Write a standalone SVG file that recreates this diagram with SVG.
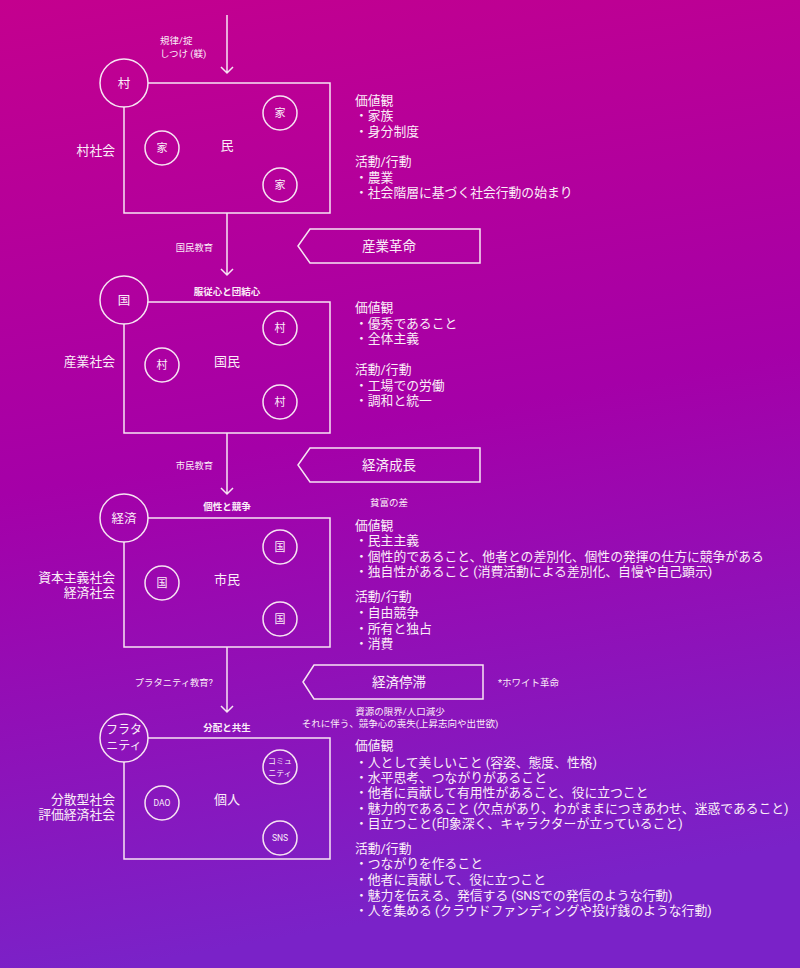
<svg xmlns="http://www.w3.org/2000/svg" width="800" height="968" viewBox="0 0 800 968">
<defs>
<linearGradient id="bg" x1="0" y1="0" x2="0.15" y2="1">
<stop offset="0" stop-color="#c4008e"/>
<stop offset="0.5" stop-color="#a500a8"/>
<stop offset="1" stop-color="#7a22c8"/>
</linearGradient>
<style>
text{font-family:Roboto,"Noto Sans CJK JP",sans-serif;fill:#fbeef8;dominant-baseline:central}
.ln{fill:none;stroke:#f7e4f3;stroke-width:1.5}
.big{font-size:12.5px;text-anchor:middle}
.mid{font-size:13px;text-anchor:middle}
.sm{font-size:11px;text-anchor:middle}
.xs{font-size:8.5px;text-anchor:middle}
.lbl{font-size:12.8px;text-anchor:end}
.desc{font-size:12.8px}
.edu{font-size:9.3px;text-anchor:end}
.bold{font-size:9.5px;font-weight:bold;text-anchor:middle}
.note{font-size:9.5px}
.ban{font-size:13.5px;text-anchor:middle}
</style>
</defs>
<rect width="800" height="968" fill="url(#bg)"/>

<g id="connectors">
<path class="ln" d="M227 15V73M221 67L227 73L233 67"/>
<path class="ln" d="M227 213V275M221 269L227 275L233 269"/>
<path class="ln" d="M227 433V494M221 488L227 494L233 488"/>
<path class="ln" d="M227 647V712M221 706L227 712L233 706"/>
<text class="note" x="160" y="40">規律/掟</text>
<text class="note" x="160" y="53">しつけ (躾)</text>
<text class="edu" x="213" y="247">国民教育</text>
<text class="edu" x="213" y="465">市民教育</text>
<text class="edu" x="213" y="682">プラタニティ教育?</text>
<text class="bold" x="227" y="291">服従心と団結心</text>
<text class="bold" x="227" y="506">個性と競争</text>
<text class="bold" x="227" y="727">分配と共生</text>
</g>

<g id="banner1">
<path class="ln" d="M298 246L310 229H480V263H310Z" stroke-width="2"/>
<text class="ban" x="389" y="246">産業革命</text>
</g>
<g id="banner2">
<path class="ln" d="M298 465L310 448H480V482H310Z" stroke-width="2"/>
<text class="ban" x="389" y="465">経済成長</text>
<text class="note" x="389" y="502" text-anchor="middle">貧富の差</text>
</g>
<g id="banner3">
<path class="ln" d="M303 682L314 665H483V699H314Z" stroke-width="2"/>
<text class="ban" x="399" y="682">経済停滞</text>
<text class="note" x="498" y="682">*ホワイト革命</text>
<text class="note" x="400" y="711" text-anchor="middle">資源の限界/人口減少</text>
<text class="note" x="400" y="723" text-anchor="middle">それに伴う、競争心の喪失(上昇志向や出世欲)</text>
</g>

<g id="village-society">
<path class="ln" d="M148 83H330V213H124V107"/>
<circle class="ln" cx="124" cy="83" r="24"/>
<text class="big" x="124" y="83">村</text>
<circle class="ln" cx="280" cy="113" r="17"/>
<text class="sm" x="280" y="113">家</text>
<circle class="ln" cx="162" cy="148" r="17"/>
<text class="sm" x="162" y="148">家</text>
<circle class="ln" cx="280" cy="185" r="17"/>
<text class="sm" x="280" y="185">家</text>
<text class="mid" x="227" y="145">民</text>
<text class="lbl" x="115" y="150">村社会</text>
<text class="desc" x="355" y="100">価値観</text>
<text class="desc" x="355" y="115">・家族</text>
<text class="desc" x="355" y="131">・身分制度</text>
<text class="desc" x="355" y="161">活動/行動</text>
<text class="desc" x="355" y="177">・農業</text>
<text class="desc" x="355" y="192">・社会階層に基づく社会行動の始まり</text>
</g>

<g id="industrial-society">
<path class="ln" d="M148 302H330V433H124V324"/>
<circle class="ln" cx="124" cy="300" r="24"/>
<text class="big" x="124" y="300">国</text>
<circle class="ln" cx="280" cy="328" r="17"/>
<text class="sm" x="280" y="328">村</text>
<circle class="ln" cx="162" cy="365" r="17"/>
<text class="sm" x="162" y="365">村</text>
<circle class="ln" cx="280" cy="402" r="17"/>
<text class="sm" x="280" y="402">村</text>
<text class="mid" x="227" y="361">国民</text>
<text class="lbl" x="115" y="361">産業社会</text>
<text class="desc" x="355" y="307">価値観</text>
<text class="desc" x="355" y="323">・優秀であること</text>
<text class="desc" x="355" y="338">・全体主義</text>
<text class="desc" x="355" y="369">活動/行動</text>
<text class="desc" x="355" y="385">・工場での労働</text>
<text class="desc" x="355" y="400">・調和と統一</text>
</g>

<g id="capitalist-society">
<path class="ln" d="M148 518H330V647H124V542"/>
<circle class="ln" cx="124" cy="518" r="24"/>
<text class="big" x="124" y="518">経済</text>
<circle class="ln" cx="280" cy="547" r="17"/>
<text class="sm" x="280" y="547">国</text>
<circle class="ln" cx="162" cy="583" r="17"/>
<text class="sm" x="162" y="583">国</text>
<circle class="ln" cx="280" cy="619" r="17"/>
<text class="sm" x="280" y="619">国</text>
<text class="mid" x="227" y="579">市民</text>
<text class="lbl" x="115" y="577">資本主義社会</text>
<text class="lbl" x="115" y="592">経済社会</text>
<text class="desc" x="355" y="525">価値観</text>
<text class="desc" x="355" y="540">・民主主義</text>
<text class="desc" x="355" y="556">・個性的であること、他者との差別化、個性の発揮の仕方に競争がある</text>
<text class="desc" x="355" y="571">・独自性があること (消費活動による差別化、自慢や自己顕示)</text>
<text class="desc" x="355" y="596">活動/行動</text>
<text class="desc" x="355" y="612">・自由競争</text>
<text class="desc" x="355" y="628">・所有と独占</text>
<text class="desc" x="355" y="643">・消費</text>
</g>

<g id="distributed-society">
<path class="ln" d="M148 738H330V859H124V762"/>
<circle class="ln" cx="124" cy="738" r="24"/>
<text class="big" x="124" y="730" style="font-size:12px">フラタ</text>
<text class="big" x="124" y="746" style="font-size:12px">ニティ</text>
<circle class="ln" cx="280" cy="767" r="17"/>
<text class="xs" x="280" y="761" style="font-size:8px">コミュ</text>
<text class="xs" x="280" y="773" style="font-size:8px">ニティ</text>
<circle class="ln" cx="162" cy="803" r="17"/>
<text class="xs" x="162" y="803">DAO</text>
<circle class="ln" cx="280" cy="838" r="17"/>
<text class="xs" x="280" y="838">SNS</text>
<text class="mid" x="227" y="799">個人</text>
<text class="lbl" x="115" y="799">分散型社会</text>
<text class="lbl" x="115" y="814">評価経済社会</text>
<text class="desc" x="355" y="745">価値観</text>
<text class="desc" x="355" y="762">・人として美しいこと (容姿、態度、性格)</text>
<text class="desc" x="355" y="777">・水平思考、つながりがあること</text>
<text class="desc" x="355" y="792">・他者に貢献して有用性があること、役に立つこと</text>
<text class="desc" x="355" y="808">・魅力的であること (欠点があり、わがままにつきあわせ、迷惑であること)</text>
<text class="desc" x="355" y="823">・目立つこと(印象深く、キャラクターが立っていること)</text>
<text class="desc" x="355" y="848">活動/行動</text>
<text class="desc" x="355" y="863">・つながりを作ること</text>
<text class="desc" x="355" y="879">・他者に貢献して、役に立つこと</text>
<text class="desc" x="355" y="895">・魅力を伝える、発信する (SNSでの発信のような行動)</text>
<text class="desc" x="355" y="910">・人を集める (クラウドファンディングや投げ銭のような行動)</text>
</g>
</svg>
